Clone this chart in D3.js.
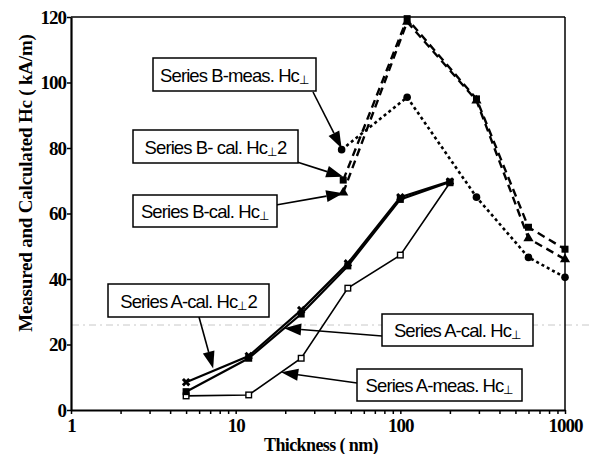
<!DOCTYPE html>
<html>
<head>
<meta charset="utf-8">
<script src="https://cdn.jsdelivr.net/npm/d3@7"></script>
<style>
  html, body { margin: 0; padding: 0; background: #fff; }
  svg { display: block; }
</style>
</head>
<body>
<svg id="chart" width="589" height="454"></svg>
<script>
// ---------- data ----------
const xTickLabels = [1, 10, 100, 1000];
const yTickValues = [0, 20, 40, 60, 80, 100, 120];

const thicknessA = [5, 12, 25, 48, 100, 200];
const seriesAMeas = [4.3, 4.6, 15.8, 37.2, 47.3, 69.4];
const seriesACal = [5.6, 15.8, 29.3, 44.0, 64.3, 69.6];
const seriesACal2 = [8.5, 16.5, 30.5, 44.8, 65.0, 69.8];

const thicknessB = [45, 110, 290, 600, 1000];
const seriesBMeas = [79.5, 95.5, 65.0, 46.6, 40.5];
const seriesBCal2 = [70.2, 119.5, 95.0, 55.8, 49.1];
const seriesBCal = [66.4, 118.5, 94.5, 52.4, 46.0];

// annotation labels, suffix after the subscript, target point in data units
const annoLabels = ["Series B-meas. Hc", "Series B- cal. Hc", "Series B-cal. Hc",
                    "Series A-cal. Hc", "Series A-cal. Hc", "Series A-meas. Hc"];
const annoSuffix = ["", "2", "", "2", "", ""];
const annoTargetX = [44, 45, 45, 7.3, 19.7, 18.9];
const annoTargetY = [79.9, 71.2, 66.2, 12.7, 25.0, 11.5];

// ---------- layout ----------
const svg = d3.select("#chart");
const W = 589, H = 454;
const x = d3.scaleLog().domain([1, 1000]).range([71, 565]);
const y = d3.scaleLinear().domain([0, 120]).range([410, 17]);

svg.append("rect").attr("width", W).attr("height", H).attr("fill", "#fff");

// faint scan line
svg.append("line")
  .attr("x1", 72).attr("x2", W).attr("y1", 325).attr("y2", 325)
  .attr("stroke", "#c8c8c8").attr("stroke-width", 1)
  .attr("stroke-dasharray", "7,4,2,4");

// frame top/right
svg.append("line").attr("x1", x(1)).attr("x2", x(1000)).attr("y1", y(120)).attr("y2", y(120))
  .attr("stroke", "#000").attr("stroke-width", 1.5);
svg.append("line").attr("x1", x(1000)).attr("x2", x(1000)).attr("y1", y(120)).attr("y2", y(0))
  .attr("stroke", "#000").attr("stroke-width", 1.5);

// x axis
const allXTicks = [];
for (let d = 1; d <= 100; d *= 10) for (let m = 1; m < 10; m++) allXTicks.push(d * m);
allXTicks.push(1000);
const xAxis = d3.axisBottom(x).tickValues(allXTicks).tickSize(4).tickSizeOuter(0)
  .tickFormat(d => xTickLabels.includes(d) ? String(d) : "");
const gx = svg.append("g").attr("transform", `translate(0,${y(0)})`).call(xAxis);
gx.select(".domain").attr("stroke-width", 2.2);
gx.selectAll(".tick line").attr("stroke-width", 1.5);
gx.selectAll(".tick text")
  .attr("font-family", "Liberation Serif, Times New Roman, serif")
  .attr("font-weight", "bold").attr("font-size", 19).attr("fill", "#000")
  .attr("letter-spacing", "-1").attr("dy", "0.8em");

// y axis
const yAxis = d3.axisLeft(y).tickValues(yTickValues).tickSize(4).tickSizeOuter(0);
const gy = svg.append("g").attr("transform", `translate(${x(1)},0)`).call(yAxis);
gy.select(".domain").attr("stroke-width", 2.2);
gy.selectAll(".tick line").attr("stroke-width", 1.5);
gy.selectAll(".tick text")
  .attr("font-family", "Liberation Serif, Times New Roman, serif")
  .attr("font-weight", "bold").attr("font-size", 19).attr("fill", "#000")
  .attr("letter-spacing", "-1").attr("x", -5);

// axis titles
svg.append("text")
  .attr("transform", "translate(32,183) rotate(-90)")
  .attr("text-anchor", "middle")
  .attr("font-family", "Liberation Serif, Times New Roman, serif")
  .attr("font-weight", "bold").attr("font-size", 19)
  .attr("letter-spacing", "-0.2")
  .text("Measured and Calculated Hc ( kA/m)");
svg.append("text")
  .attr("x", 321).attr("y", 451).attr("text-anchor", "middle")
  .attr("font-family", "Liberation Serif, Times New Roman, serif")
  .attr("font-weight", "bold").attr("font-size", 18)
  .attr("letter-spacing", "-0.6")
  .text("Thickness ( nm)");

// ---------- series ----------
const seriesDefs = [
  { xs: thicknessA, ys: seriesAMeas, dash: null, width: 1.6, marker: "openSquare" },
  { xs: thicknessA, ys: seriesACal, dash: null, width: 2.2, marker: "square" },
  { xs: thicknessA, ys: seriesACal2, dash: null, width: 2.2, marker: "cross" },
  { xs: [44].concat(thicknessB.slice(1)), ys: seriesBMeas, dash: "3,3", width: 2.6, marker: "circle" },
  { xs: thicknessB, ys: seriesBCal2, dash: "8,5", width: 2.4, marker: "square" },
  { xs: thicknessB, ys: seriesBCal, dash: "8,5", width: 2.4, marker: "triangle" },
];

const line = d3.line().x(d => x(d[0])).y(d => y(d[1]));
seriesDefs.forEach(s => {
  const pts = s.xs.map((v, i) => [v, s.ys[i]]);
  svg.append("path").datum(pts).attr("d", line)
    .attr("fill", "none").attr("stroke", "#000")
    .attr("stroke-width", s.width)
    .attr("stroke-dasharray", s.dash);
  const g = svg.append("g");
  pts.forEach(p => {
    const cx = x(p[0]), cy = y(p[1]);
    if (s.marker === "openSquare") {
      g.append("rect").attr("x", cx - 2.8).attr("y", cy - 2.8).attr("width", 5.6).attr("height", 5.6)
        .attr("fill", "#fff").attr("stroke", "#000").attr("stroke-width", 1.4);
    } else if (s.marker === "square") {
      g.append("rect").attr("x", cx - 3.5).attr("y", cy - 3.5).attr("width", 7).attr("height", 7)
        .attr("fill", "#000");
    } else if (s.marker === "circle") {
      g.append("circle").attr("cx", cx).attr("cy", cy).attr("r", 3.8).attr("fill", "#000");
    } else if (s.marker === "triangle") {
      g.append("path").attr("d", d3.symbol(d3.symbolTriangle, 45)()).attr("transform", `translate(${cx},${cy})`)
        .attr("fill", "#000");
    } else if (s.marker === "cross") {
      g.append("path").attr("d", d3.symbol(d3.symbolCross, 45)()).attr("transform", `translate(${cx},${cy}) rotate(45)`)
        .attr("fill", "#000");
    }
  });
});

// ---------- annotations ----------
const boxes = [
  { x0: 153, y0: 58, x1: 316, y1: 91, ax: 313, ay: 92 },
  { x0: 133, y0: 130, x1: 298, y1: 163, ax: 297, ay: 162 },
  { x0: 133, y0: 195, x1: 277, y1: 227, ax: 276, ay: 205 },
  { x0: 108, y0: 284, x1: 269, y1: 317, ax: 199, ay: 317 },
  { x0: 382, y0: 314, x1: 533, y1: 346, ax: 382, ay: 336 },
  { x0: 357, y0: 369, x1: 522, y1: 401, ax: 357, ay: 383 },
];

function arrow(x0, y0, x1, y1) {
  const dx = x1 - x0, dy = y1 - y0, L = Math.hypot(dx, dy);
  const ux = dx / L, uy = dy / L;
  const hl = 17, hw = 6;
  const bx = x1 - ux * hl, by = y1 - uy * hl;
  svg.append("line").attr("x1", x0).attr("y1", y0).attr("x2", bx).attr("y2", by)
    .attr("stroke", "#000").attr("stroke-width", 1.6);
  svg.append("path")
    .attr("d", `M${x1},${y1}L${bx - uy * hw},${by + ux * hw}L${bx + uy * hw},${by - ux * hw}Z`)
    .attr("fill", "#000");
}

boxes.forEach((b, i) => {
  arrow(b.ax, b.ay, x(annoTargetX[i]), y(annoTargetY[i]));
  svg.append("rect").attr("x", b.x0).attr("y", b.y0)
    .attr("width", b.x1 - b.x0).attr("height", b.y1 - b.y0)
    .attr("fill", "#fff").attr("stroke", "#000").attr("stroke-width", 1.5);
  const t = svg.append("text")
    .attr("x", (b.x0 + b.x1) / 2).attr("y", (b.y0 + b.y1) / 2 + 7)
    .attr("text-anchor", "middle")
    .attr("font-family", "Liberation Sans, Arial, sans-serif")
    .attr("font-size", 18.5).attr("letter-spacing", "-0.9");
  t.append("tspan").text(annoLabels[i]);
  t.append("tspan").attr("font-size", 12).attr("dy", 2).attr("letter-spacing", "0").text("⊥");
  if (annoSuffix[i]) t.append("tspan").attr("dy", -2).text(annoSuffix[i]);
});
</script>
</body>
</html>
